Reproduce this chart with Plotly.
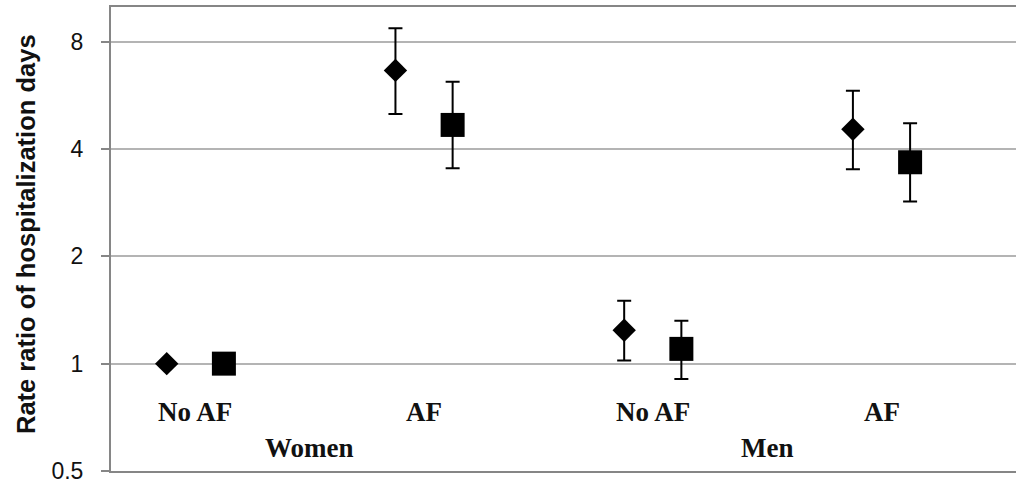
import plotly.graph_objects as go

# Data
categories = ["No AF", "AF", "No AF", "AF"]
groups = ["Women", "Men"]
cat_index = [0, 1, 2, 3]

diamond_val = [1.00, 6.64, 1.24, 4.54]
diamond_hi = [1.00, 8.72, 1.50, 5.82]
diamond_lo = [1.00, 5.01, 1.02, 3.51]

square_val = [1.00, 4.67, 1.10, 3.67]
square_hi = [1.00, 6.17, 1.32, 4.72]
square_lo = [1.00, 3.53, 0.906, 2.85]

y_ticks = [0.5, 1, 2, 4, 8]
y_title = "Rate ratio of hospitalization days"

offset = 0.125

fig = go.Figure()

def add_series(vals, hi, lo, symbol, size, sign, name):
    fig.add_trace(go.Scatter(
        x=[i + sign * offset for i in cat_index],
        y=vals,
        mode="markers",
        name=name,
        showlegend=False,
        marker=dict(symbol=symbol, size=size, color="black"),
        error_y=dict(
            type="data",
            symmetric=False,
            array=[h - v for h, v in zip(hi, vals)],
            arrayminus=[v - l for v, l in zip(vals, lo)],
            color="black",
            thickness=2,
            width=7,
        ),
    ))

add_series(diamond_val, diamond_hi, diamond_lo, "diamond", 18, -1, "Diamond")
add_series(square_val, square_hi, square_lo, "square", 24, 1, "Square")

label_font = dict(family="Liberation Serif", size=27, color="#111111")
for i, c in zip(cat_index, categories):
    fig.add_annotation(x=i, y=0.127, xref="x", yref="paper", text="<b>%s</b>" % c,
                       showarrow=False, font=label_font, xanchor="center", yanchor="middle")
for gi, g in enumerate(groups):
    fig.add_annotation(x=2 * gi + 0.5, y=0.05, xref="x", yref="paper", text="<b>%s</b>" % g,
                       showarrow=False, font=label_font, xanchor="center", yanchor="middle")

fig.add_annotation(x=(26 - 111) / 905.0, y=(489 - 18 - 234) / 464.0,
                   xref="paper", yref="paper", text="<b>%s</b>" % y_title,
                   showarrow=False, textangle=-90, xanchor="center", yanchor="middle",
                   font=dict(family="Liberation Sans", size=25.5, color="#111111"))

fig.update_layout(
    width=1016, height=489,
    margin=dict(l=111, r=0, t=7, b=18),
    paper_bgcolor="white", plot_bgcolor="white",
    xaxis=dict(range=[-0.3686, 3.588], showgrid=False, zeroline=False,
               showticklabels=False, ticks="",
               showline=True, linecolor="#868686", linewidth=2, mirror=True),
    yaxis=dict(type="log", range=[0.69897 - 1, 1.0], tickvals=y_ticks,
               ticktext=[str(v) for v in y_ticks],
               showgrid=True, gridcolor="#b4b4b4", gridwidth=1.5,
               zeroline=False, showline=True, linecolor="#868686", linewidth=2,
               ticks="outside", ticklen=8, tickcolor="#868686", tickwidth=1.5,
               ticklabelstandoff=13,
               tickfont=dict(family="Liberation Sans", size=23, color="#111111")),
)

fig.write_html("out.html")
